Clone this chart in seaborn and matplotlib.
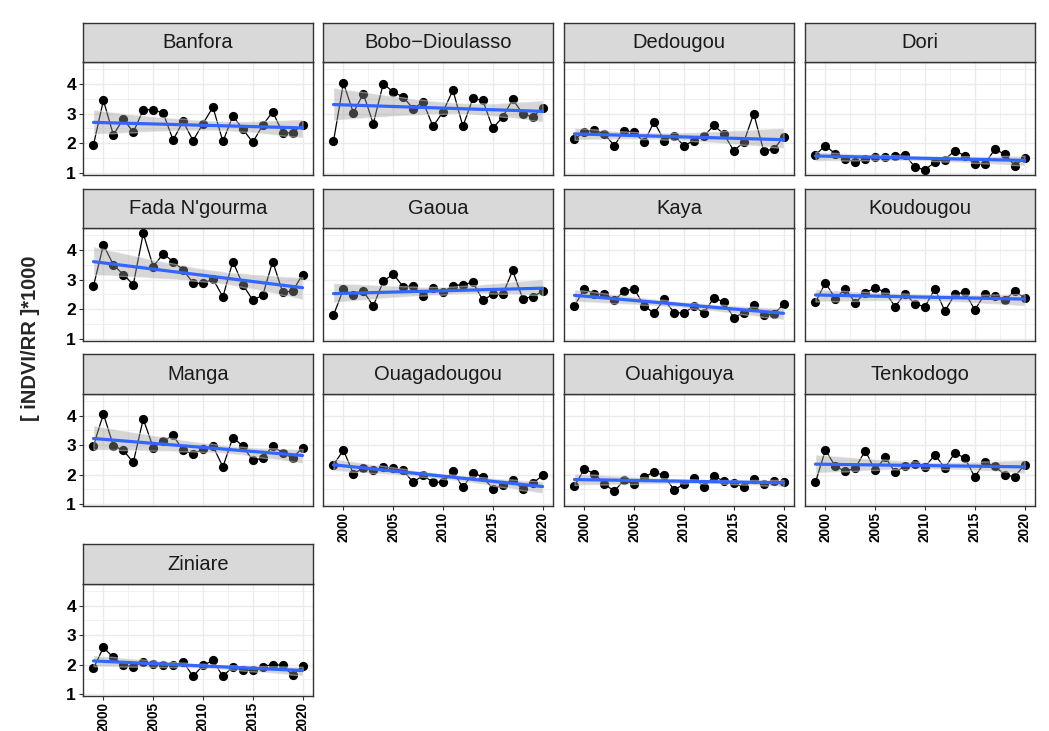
import numpy as np
import pandas as pd
import matplotlib
matplotlib.use("Agg")
import matplotlib.pyplot as plt
import seaborn as sns

# data (iNDVI/RR * 1000 per year)
years = list(range(1999, 2021))

banfora = [1.94, 3.45, 2.28, 2.83, 2.37, 3.13, 3.13, 3.02, 2.11, 2.74, 2.09,
           2.66, 3.22, 2.06, 2.92, 2.48, 2.03, 2.61, 3.06, 2.35, 2.35, 2.62]
bobo = [2.06, 4.03, 3.03, 3.67, 2.66, 4.01, 3.73, 3.56, 3.17, 3.39, 2.57,
        3.06, 3.79, 2.57, 3.51, 3.45, 2.51, 2.88, 3.48, 3.00, 2.88, 3.19]
dedougou = [2.15, 2.37, 2.45, 2.31, 1.92, 2.43, 2.37, 2.03, 2.73, 2.09, 2.26,
            1.92, 2.09, 2.24, 2.60, 2.31, 1.75, 2.03, 3.00, 1.75, 1.79, 2.22]
dori = [1.61, 1.92, 1.64, 1.47, 1.36, 1.47, 1.53, 1.53, 1.58, 1.61, 1.19,
        1.11, 1.36, 1.45, 1.75, 1.58, 1.30, 1.30, 1.79, 1.64, 1.25, 1.49]
fada = [2.78, 4.17, 3.50, 3.17, 2.83, 4.56, 3.44, 3.87, 3.61, 3.33, 2.89,
        2.87, 3.02, 2.42, 3.61, 2.83, 2.31, 2.47, 3.61, 2.58, 2.61, 3.17]
gaoua = [1.80, 2.67, 2.47, 2.61, 2.11, 2.94, 3.19, 2.76, 2.78, 2.44, 2.72,
         2.58, 2.80, 2.83, 2.91, 2.31, 2.50, 2.50, 3.31, 2.36, 2.42, 2.61]
kaya = [2.11, 2.70, 2.50, 2.53, 2.31, 2.61, 2.69, 2.11, 1.87, 2.33, 1.89,
        1.87, 2.11, 1.87, 2.39, 2.24, 1.72, 1.89, 2.13, 1.80, 1.83, 2.17]
koudougou = [2.24, 2.89, 2.36, 2.69, 2.22, 2.56, 2.72, 2.58, 2.09, 2.53, 2.17,
             2.09, 2.69, 1.94, 2.50, 2.58, 1.98, 2.50, 2.44, 2.31, 2.61, 2.39]
manga = [2.98, 4.06, 2.98, 2.83, 2.41, 3.89, 2.92, 3.14, 3.33, 2.83, 2.70,
         2.86, 2.97, 2.26, 3.26, 2.97, 2.48, 2.56, 2.97, 2.74, 2.56, 2.92]
ouaga = [2.33, 2.83, 2.03, 2.22, 2.14, 2.26, 2.22, 2.14, 1.74, 1.97, 1.74,
         1.74, 2.11, 1.56, 2.06, 1.92, 1.52, 1.63, 1.83, 1.50, 1.70, 1.97]
ouahigouya = [1.61, 2.19, 2.03, 1.67, 1.44, 1.81, 1.67, 1.92, 2.08, 1.97, 1.48,
              1.67, 1.89, 1.58, 1.94, 1.78, 1.72, 1.56, 1.86, 1.67, 1.78, 1.74]
tenkodogo = [1.74, 2.83, 2.28, 2.11, 2.22, 2.81, 2.14, 2.59, 2.08, 2.28, 2.37,
             2.26, 2.67, 2.22, 2.74, 2.56, 1.92, 2.42, 2.28, 2.00, 1.92, 2.33]
ziniare = [1.87, 2.58, 2.24, 1.97, 1.93, 2.10, 2.03, 2.00, 1.97, 2.10, 1.60,
           1.97, 2.14, 1.60, 1.93, 1.80, 1.80, 1.93, 2.00, 1.97, 1.64, 1.95]

stations = ["Banfora", "Bobo\u2212Dioulasso", "Dedougou", "Dori",
            "Fada N'gourma", "Gaoua", "Kaya", "Koudougou",
            "Manga", "Ouagadougou", "Ouahigouya", "Tenkodogo", "Ziniare"]
series = [banfora, bobo, dedougou, dori, fada, gaoua, kaya, koudougou,
          manga, ouaga, ouahigouya, tenkodogo, ziniare]

df = pd.DataFrame({
    "station": np.repeat(stations, len(years)),
    "year": years * len(stations),
    "value": np.concatenate(series),
})

sns.set_theme(style="white")
plt.rcParams['font.family'] = ['Liberation Sans', 'DejaVu Sans']

W, H = 1049, 731
fig = plt.figure(figsize=(W / 100, H / 100), dpi=100)

# panel layout in pixels
col_left = [83, 323, 564, 805]
panel_w = 230
rows = [(23, 62, 175), (189, 228, 341), (354, 394, 506), (544, 584, 696)]

for i, name in enumerate(stations):
    r, c = divmod(i, 4)
    top, ptop, pbot = rows[r]
    x0 = col_left[c]
    ax = fig.add_axes([x0 / W, 1 - pbot / H, panel_w / W, (pbot - ptop) / H])
    strip = fig.add_axes([x0 / W, 1 - ptop / H, panel_w / W, (ptop - top) / H])

    sub = df[df["station"] == name]
    sns.lineplot(data=sub, x="year", y="value", color="black", lw=0.9,
                 errorbar=None, ax=ax, zorder=2)
    sns.scatterplot(data=sub, x="year", y="value", color="black", s=44,
                    linewidth=0, ax=ax, zorder=2)
    sns.regplot(data=sub, x="year", y="value", scatter=False, ci=95,
                color="#3366FF", line_kws={"lw": 2.3}, ax=ax)
    band = ax.collections[-1]
    band.set_facecolor((0.6, 0.6, 0.6))
    band.set_alpha(0.4)
    band.set_zorder(3)
    ax.lines[-1].set_zorder(4)

    ax.set_xlim(1997.95, 2021.05)
    ax.set_ylim(0.93, 4.74)
    ax.set_xticks([2000, 2005, 2010, 2015, 2020])
    ax.set_xticks([2002.5, 2007.5, 2012.5, 2017.5], minor=True)
    ax.set_yticks([1, 2, 3, 4])
    ax.set_yticks([1.5, 2.5, 3.5, 4.5], minor=True)
    ax.grid(which="major", color="#EBEBEB", lw=1.0)
    ax.grid(which="minor", color="#EBEBEB", lw=0.5)
    ax.set_axisbelow(True)
    ax.set_xlabel("")
    ax.set_ylabel("")
    for s in ax.spines.values():
        s.set_color("#333333")
        s.set_linewidth(1.0)

    show_y = c == 0
    show_x = i >= len(stations) - 4
    ax.tick_params(axis="y", which="major", left=show_y, labelleft=show_y,
                   length=3, width=0.8, color="#333333", pad=2,
                   labelsize=12.5, labelcolor="black")
    ax.tick_params(axis="x", which="major", bottom=show_x, labelbottom=show_x,
                   length=3, width=0.8, color="#333333", pad=1,
                   labelsize=9.8, labelcolor="black", labelrotation=90)
    ax.tick_params(which="minor", length=0)
    for lab in ax.get_xticklabels() + ax.get_yticklabels():
        lab.set_fontweight("bold")

    strip.set_facecolor("#D9D9D9")
    strip.set_xticks([])
    strip.set_yticks([])
    for s in strip.spines.values():
        s.set_color("#333333")
        s.set_linewidth(1.0)
    strip.text(0.5, 0.5, name, ha="center", va="center", fontsize=14.5,
               color="#1A1A1A", transform=strip.transAxes)

fig.text(30 / W, 1 - 338 / H, "[ iNDVI/RR ]*1000", rotation=90,
         ha="center", va="center", fontsize=14.5, fontweight="bold")

fig.savefig("out.png", dpi=100)
